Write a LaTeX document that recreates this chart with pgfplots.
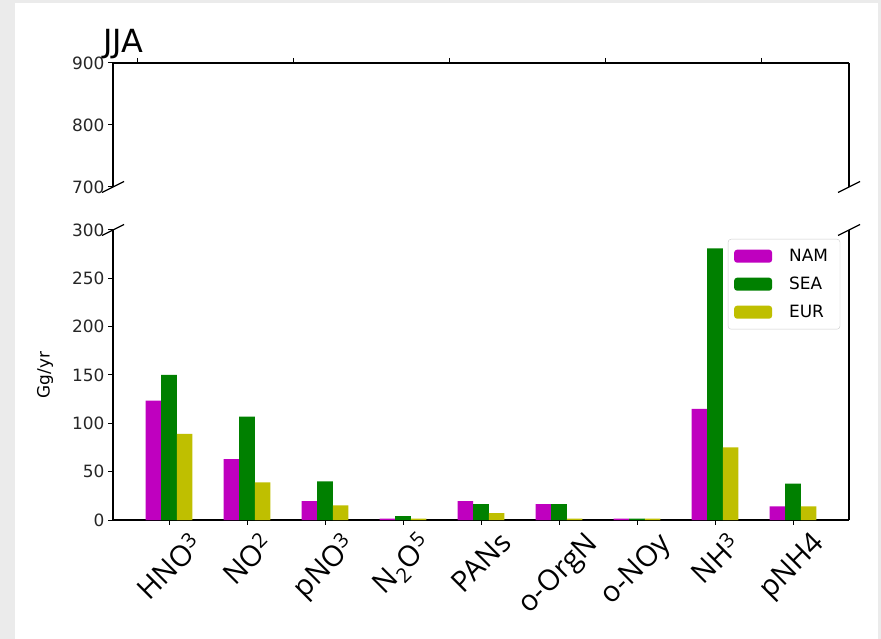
\documentclass[border=0pt]{standalone}
\usepackage{pgfplots}
\pgfplotsset{compat=1.18}
\usepackage{graphicx}
\usepackage{fontspec}
\setmainfont{DejaVu Sans}
\newfontfamily\labfont{Open Sans}
\definecolor{cM}{rgb}{0.75,0,0.75}
\definecolor{cG}{rgb}{0,0.5,0}
\definecolor{cY}{rgb}{0.75,0.75,0}
\definecolor{bggray}{HTML}{EBEBEB}
\newcommand{\xl}[1]{\rotatebox{45}{\labfont\fontsize{29}{34}\selectfont #1}}
\newcommand{\brk}[1]{\draw[black, line width=1.2bp] (#1) ++(-11bp,-5.5bp) -- ++(22bp,11bp);}
\pgfplotsset{
  base/.style={scale only axis, width=736bp, xmin=-0.718, xmax=8.718,
    tick align=outside, major tick length=5bp,
    tick style={black, line width=1bp},
    axis line style={black, line width=1.2bp},
    /pgf/number format/assume math mode=true,
    yticklabel style={font=\fontsize{17}{20}\selectfont, text=black!85},
    clip=false, anchor=south west}
}
\begin{document}
\begin{tikzpicture}
\fill[bggray] (0,0) rectangle (881bp,639bp);
\fill[white] (15bp,0) rectangle (878bp,636bp);
\path[use as bounding box] (0,0) rectangle (881bp,639bp);

\begin{axis}[base, at={(113bp,452bp)}, height=124bp,
  ymin=700, ymax=900, ytick={700,800,900},
  xtick={-0.4,1.6,3.6,5.6,7.6}, xticklabels={},
  axis x line*=top, axis y line*=left]
  \draw[black, line width=1.2bp] (rel axis cs:1,0) -- (rel axis cs:1,1);
  \brk{rel axis cs:0,0}
  \brk{rel axis cs:1,0}
\end{axis}

\begin{axis}[base, at={(113bp,119bp)}, height=290bp,
  ymin=0, ymax=300, ytick={0,50,100,150,200,250,300},
  xtick={0,1,2,3,4,5,6,7,8},
  xticklabels={\xl{HNO\textsuperscript{3}}, \xl{NO\textsuperscript{2}}, \xl{pNO\textsuperscript{3}}, \xl{N\textsubscript{2}O\textsuperscript{5}}, \xl{PANs}, \xl{o-OrgN}, \xl{o-NOy}, \xl{NH\textsuperscript{3}}, \xl{pNH4}},
  xticklabel style={anchor=north, inner sep=0pt, yshift=-5bp},
  axis x line*=bottom, axis y line*=left,
  ybar, bar width=0.2,
  legend style={at={(0.988,0.969)}, anchor=north east, draw=black!20, rounded corners=3bp,
    fill=white, inner xsep=6bp, inner ysep=3bp, font=\fontsize{17}{20}\selectfont,
    nodes={inner sep=0pt, minimum height=28bp, anchor=west},
    /tikz/every odd column/.append style={column sep=17bp},
    /tikz/every even column/.append style={column sep=0bp}},
  legend cell align=left,
  legend image code/.code={\fill[#1] (0bp,-6.5bp) rectangle (38bp,6.5bp);}]
  \addplot[fill=cM, draw=none, bar shift=-0.2] coordinates {(0,123.5) (1,63) (2,19.5) (3,1.5) (4,19.5) (5,16.5) (6,1.5) (7,115) (8,14)};
  \addplot[fill=cG, draw=none, bar shift=0] coordinates {(0,150) (1,107) (2,40) (3,4) (4,16.5) (5,16.5) (6,1.3) (7,281) (8,37.5)};
  \addplot[fill=cY, draw=none, bar shift=0.2] coordinates {(0,89) (1,39) (2,15) (3,1.5) (4,7) (5,1.5) (6,1.5) (7,75) (8,14)};
  \legend{NAM\kern6bp,SEA\kern6bp,EUR\kern6bp}
  \draw[black, line width=1.2bp] (rel axis cs:1,0) -- (rel axis cs:1,1);
  \brk{rel axis cs:0,1}
  \brk{rel axis cs:1,1}
\end{axis}

\node[anchor=base west, font=\fontsize{32}{38}\selectfont] at (100bp,586bp) {JJA};
\node[rotate=90, anchor=center, font=\fontsize{17}{20}\selectfont] at (45bp,264bp) {Gg/yr};
\end{tikzpicture}
\end{document}
